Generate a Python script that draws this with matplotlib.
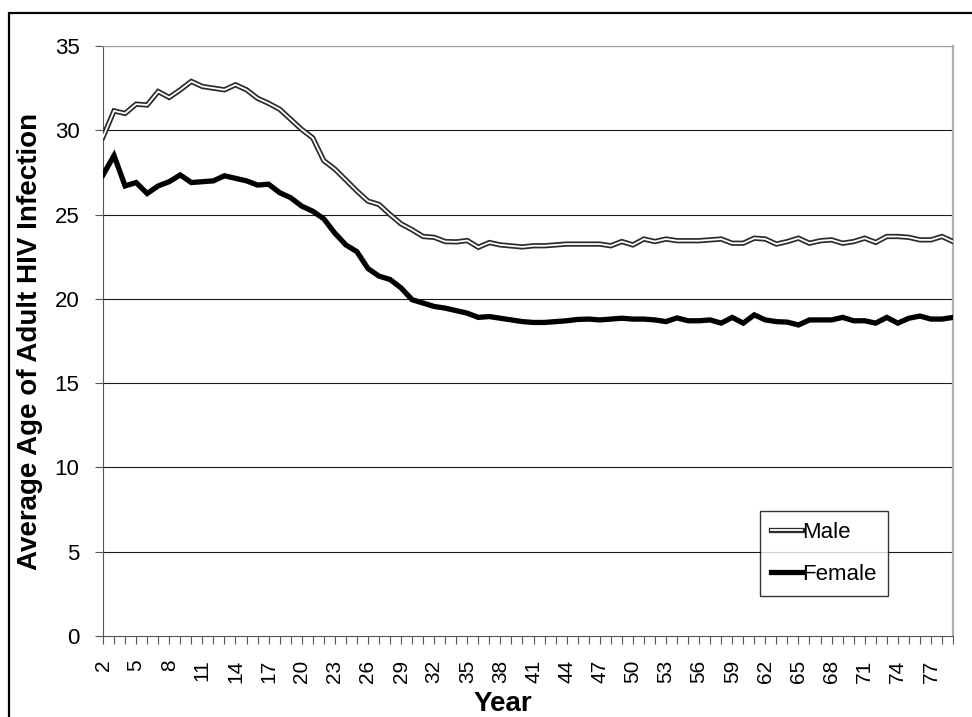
import numpy as np
import matplotlib
matplotlib.use("Agg")
import matplotlib.pyplot as plt
import matplotlib.patheffects as pe
from matplotlib.patches import Rectangle

plt.rcParams["font.family"] = ["Liberation Sans", "DejaVu Sans"]

# categories (years 2..79)
years = np.arange(2, 80)

male = [29.6, 31.15, 31.0, 31.55, 31.5, 32.3, 31.95, 32.4, 32.9, 32.6,
        32.5, 32.4, 32.7, 32.4, 31.9, 31.6, 31.25, 30.65, 30.05, 29.55,
        28.2, 27.7, 27.05, 26.4, 25.8, 25.6, 25.0, 24.45, 24.1, 23.7,
        23.65, 23.4, 23.38, 23.46, 23.06, 23.34, 23.2, 23.14, 23.08, 23.15,
        23.15, 23.2, 23.25, 23.25, 23.25, 23.25, 23.15, 23.4, 23.2, 23.55,
        23.4, 23.55, 23.45, 23.45, 23.45, 23.5, 23.55, 23.3, 23.3, 23.6,
        23.55, 23.25, 23.4, 23.6, 23.3, 23.45, 23.5, 23.3, 23.4, 23.6,
        23.35, 23.7, 23.7, 23.65, 23.5, 23.5, 23.7, 23.4]

female = [27.35, 28.5, 26.7, 26.9, 26.25, 26.7, 26.95, 27.35, 26.9, 26.95,
          27.0, 27.3, 27.15, 27.0, 26.75, 26.8, 26.3, 26.0, 25.5, 25.2,
          24.75, 23.9, 23.2, 22.8, 21.8, 21.35, 21.15, 20.65, 19.95, 19.75,
          19.55, 19.45, 19.3, 19.15, 18.9, 18.95, 18.85, 18.75, 18.65, 18.6,
          18.6, 18.65, 18.7, 18.78, 18.8, 18.75, 18.8, 18.85, 18.8, 18.8,
          18.75, 18.65, 18.87, 18.7, 18.7, 18.75, 18.56, 18.9, 18.56, 19.05,
          18.75, 18.65, 18.62, 18.45, 18.75, 18.75, 18.75, 18.9, 18.7, 18.7,
          18.56, 18.9, 18.56, 18.85, 18.98, 18.8, 18.8, 18.9]

W, H = 972, 717
fig = plt.figure(figsize=(W / 100, H / 100), dpi=100)
ax = fig.add_axes([103 / W, 1 - 636 / H, (953 - 103) / W, (636 - 46) / H])

# outer chart border (runs off the right and bottom edges)
fig.patches.append(Rectangle((9 / W, -0.1), 1.2, 1 - 13 / H + 0.1,
                             transform=fig.transFigure, fill=False,
                             edgecolor="black", linewidth=1.6, zorder=0))

ax.plot(years, male, color="white", linewidth=1.3, label="Male",
        solid_joinstyle="miter",
        path_effects=[pe.Stroke(linewidth=3.8, foreground="#2a2a2a"), pe.Normal()],
        zorder=3)
ax.plot(years, female, color="black", linewidth=3.8, label="Female",
        solid_joinstyle="miter", zorder=3)

ax.set_xlim(2, 79)
ax.set_ylim(0, 35)
ax.set_yticks(range(0, 36, 5))
ax.set_xticks(years)
ax.set_xticklabels([str(y) if (y - 2) % 3 == 0 else "" for y in years],
                   rotation=90)

for v in range(5, 36, 5):
    ax.axhline(v, color="#1a1a1a", linewidth=0.8, zorder=1)

ax.tick_params(axis="y", labelsize=16, length=6, width=0.8, pad=11,
               color="#555555", direction="out")
ax.tick_params(axis="x", labelsize=15, length=6, width=0.8, pad=11,
               color="#555555", direction="out")

ax.spines["left"].set_color("#555555")
ax.spines["bottom"].set_color("#555555")
ax.spines["top"].set_color("#a0a0a0")
ax.spines["right"].set_color("#b0b0b0")
ax.spines["right"].set_linewidth(1.6)

ax.set_ylabel("Average Age of Adult HIV Infection", fontsize=20,
              fontweight="bold", labelpad=8)
ax.set_xlabel("Year", fontsize=20, fontweight="bold", va="center")
ax.xaxis.set_label_coords(0.47, (636 - 704) / (636 - 46))

leg = ax.legend(loc="upper left", bbox_to_anchor=(760 / W, 1 - 511 / H),
                bbox_transform=fig.transFigure, fontsize=16, frameon=True,
                fancybox=False, shadow=False, handlelength=1.4,
                handletextpad=0.0, borderpad=0.5, labelspacing=0.95,
                borderaxespad=0)
leg.get_frame().set_edgecolor("black")
leg.get_frame().set_linewidth(1.0)

fig.savefig("out.png", dpi=100)
